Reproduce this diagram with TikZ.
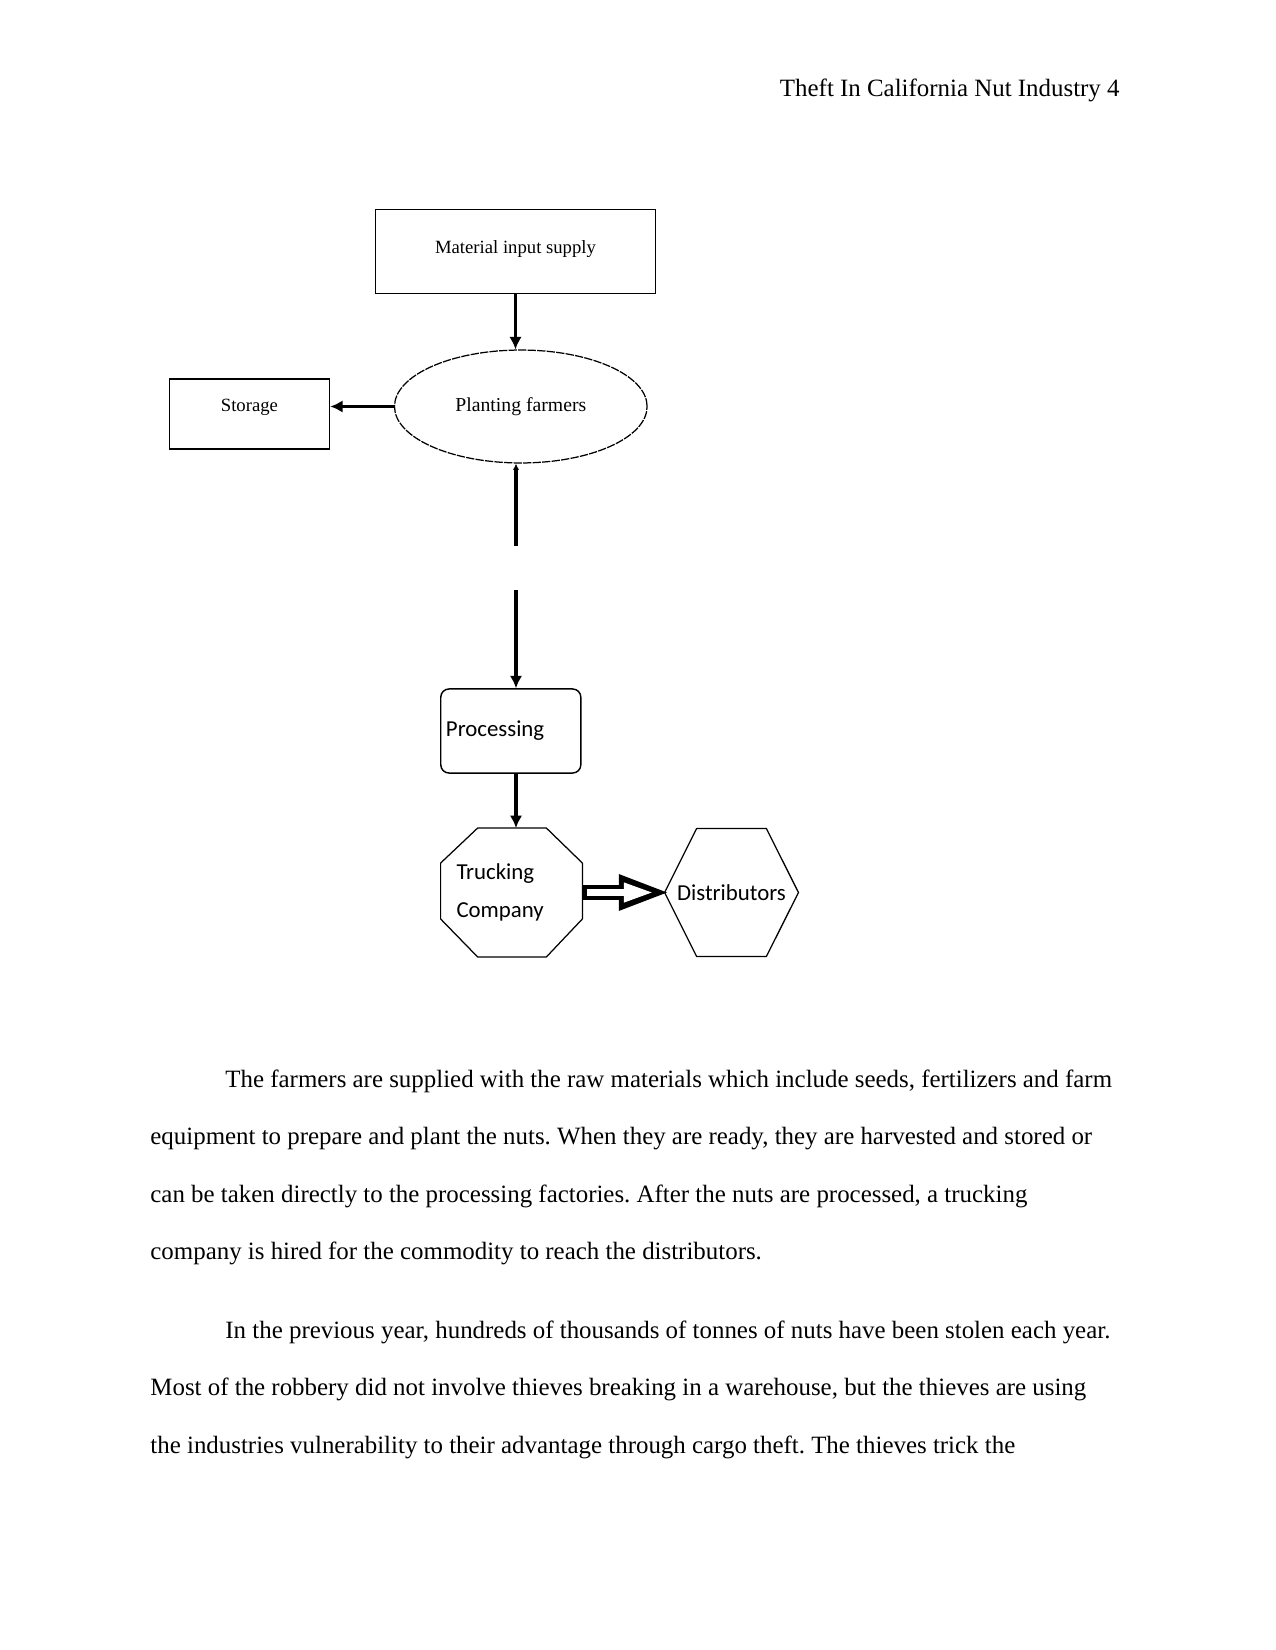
\documentclass[tikz,border=0pt]{standalone}
\usepackage{fontspec}
\setmainfont{Liberation Serif}
\newfontfamily\calibri{Carlito}
\usetikzlibrary{positioning,arrows.meta,shapes.geometric,calc}
\tikzset{
  flowarrow/.style={-{Latex[length=6pt,width=6pt]}, line width=1.5pt},
  plainline/.style={line width=1.5pt},
  bigarrow/.style={line width=7.7pt, shorten >=-3pt, -{Triangle[length=25pt,width=15.5pt]}},
  bigarrowinner/.style={white, line width=2.9pt, shorten <=2.4pt, shorten >=5.6pt, -{Triangle[length=14pt,width=8.8pt]}},
  wordbox/.style={draw, line width=0.8pt, font=\fontsize{9}{11}\selectfont, align=center, inner sep=0pt},
  farmoval/.style={draw, ellipse, line width=0.6pt, dash pattern=on 4pt off 0.6pt, font=\fontsize{9.5}{11}\selectfont, inner sep=0pt},
  stepbox/.style={draw, rounded corners=4pt, line width=0.7pt, font=\calibri\fontsize{11}{13}\selectfont, align=left, inner xsep=2.5pt},
  shapebox/.style={inner sep=0pt, font=\calibri\fontsize{11}{18.5}\selectfont},
  shapeline/.style={line width=0.6pt, line join=round},
  bodyline/.style={anchor=base west, inner sep=0pt, font=\fontsize{12}{14}\selectfont}
}
\begin{document}
\frenchspacing
\begin{tikzpicture}[x=0.4818pt, y=-0.4818pt]
  \useasboundingbox (0,0) rectangle (1275,1650);
  \node[bodyline, anchor=base east] (header) at (1120,97) {Theft In California Nut Industry 4};
  \node[wordbox, minimum width=134.9pt, minimum height=40.5pt, text depth=3.8pt] (supply) at (515.5,251.4) {Material input supply};
  \node[farmoval, minimum width=121.7pt, minimum height=54.4pt] (farmers) at (520.8,406.5) {Planting farmers};
  \node[wordbox, minimum width=77.1pt, minimum height=34pt, text depth=8pt] (storage) at (249.4,414) {Storage};
  \coordinate (gapend) at (516,546);
  \coordinate (gapstart) at (516,590);
  \node[stepbox, text width=62.5pt, minimum height=40.5pt] (processing) at (510.8,731) {Processing};
  \node[shapebox, align=left, text width=53pt, minimum width=67.9pt, minimum height=61.7pt] (trucking) at (511.5,892.5) {Trucking\\Company};
  \node[shapebox, minimum width=64.1pt, minimum height=61.2pt] (distributors) at (731.5,892.5) {Distributors};
  \draw[shapeline] ($(trucking.north west)+(37,0)$) -- ($(trucking.north east)+(-36,0)$) -- ($(trucking.north east)+(0,35)$) -- ($(trucking.south east)+(0,-38)$) -- ($(trucking.south east)+(-36,0)$) -- ($(trucking.south west)+(37,0)$) -- ($(trucking.south west)+(0,-38)$) -- ($(trucking.north west)+(0,35)$) -- cycle;
  \draw[shapeline] (distributors.west) -- ($(distributors.north west)+(32,0)$) -- ($(distributors.north east)+(-32,0)$) -- (distributors.east) -- ($(distributors.south east)+(-32,0)$) -- ($(distributors.south west)+(32,0)$) -- cycle;
  \draw[flowarrow] (supply.south) -- (supply.south |- farmers.north);
  \draw[flowarrow] (farmers.west) -- (farmers.west -| storage.east);
  \draw[plainline, -{Latex[length=3pt,width=3pt]}] (gapend) -- (gapend |- farmers.south);
  \draw[flowarrow] (gapstart) -- (gapstart |- processing.north);
  \draw[flowarrow] (processing.south -| gapstart) -- (gapstart |- trucking.north);
  \draw[bigarrow] (trucking.east) -- (distributors.west);
  \draw[bigarrowinner] (trucking.east) -- (distributors.west);
  \node[bodyline] (p1a) at (225,1087) {The farmers are supplied with the raw materials which include seeds, fertilizers and farm};
  \node[bodyline] (p1b) at (150,1144) {equipment to prepare and plant the nuts. When they are ready, they are harvested and stored or};
  \node[bodyline] (p1c) at (150,1202) {can be taken directly to the processing factories. After the nuts are processed, a trucking};
  \node[bodyline] (p1d) at (150,1259) {company is hired for the commodity to reach the distributors.};
  \node[bodyline] (p2a) at (225,1338) {In the previous year, hundreds of thousands of tonnes of nuts have been stolen each year.};
  \node[bodyline] (p2b) at (150,1395) {Most of the robbery did not involve thieves breaking in a warehouse, but the thieves are using};
  \node[bodyline] (p2c) at (150,1453) {the industries vulnerability to their advantage through cargo theft. The thieves trick the};
\end{tikzpicture}
\end{document}
